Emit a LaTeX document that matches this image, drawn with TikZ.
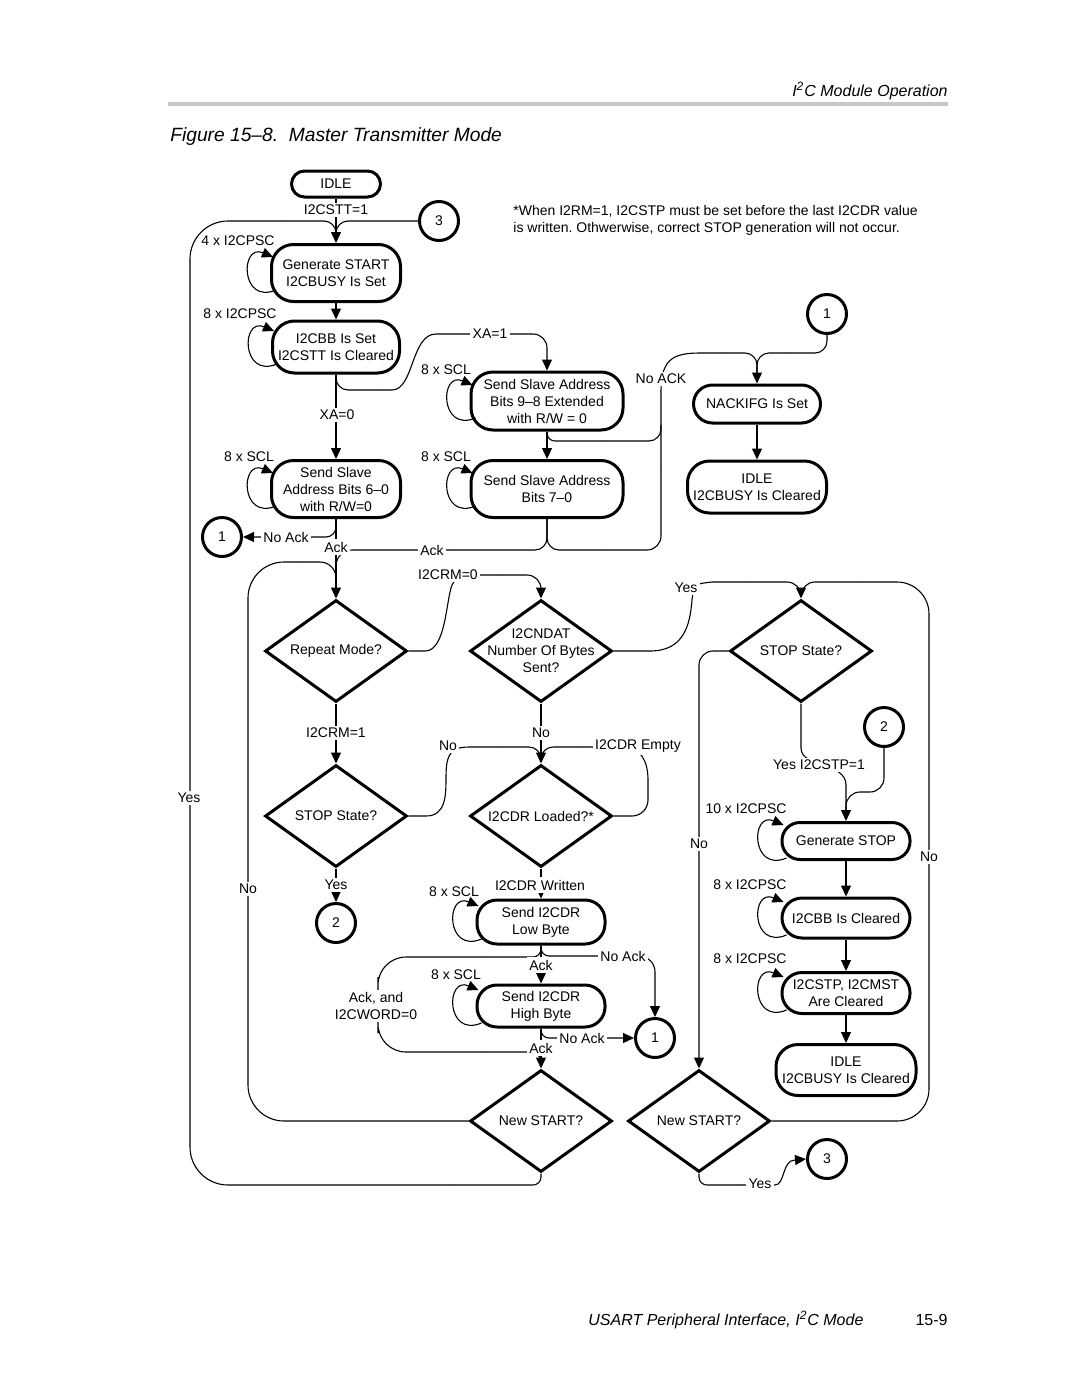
\documentclass[tikz,border=0pt]{standalone}
\usepackage{fontspec}
\setmainfont{Liberation Sans}
\usetikzlibrary{shapes.geometric,arrows.meta,calc}
\frenchspacing
\newcommand\slfloop[1]{\draw[arr] ($(#1.west)+(6,17)$) .. controls ($(#1.west)+(-30,32)$) and ($(#1.west)+(-30,-30)$) .. ($(#1.west)+(3,-16)$);}
\begin{document}
\begin{tikzpicture}[x=0.5pt,y=-0.5pt,font=\fontsize{7}{8.5}\selectfont,
  box/.style={draw,line width=1.5pt,rounded corners=11pt,align=center,inner sep=0pt},
  dia/.style={draw,diamond,line width=1.5pt,minimum width=71pt,minimum height=51pt,inner sep=0pt},
  circ/.style={draw,circle,line width=1.5pt,minimum size=19.5pt,inner sep=0pt},
  ln/.style={line width=0.55pt},
  arr/.style={ln,-{Triangle[length=5.5pt,width=5pt]}},
  lbl/.style={fill=white,inner sep=1.2pt,align=center},
  txt/.style={inner sep=0pt,align=center}]
\useasboundingbox (0,0) rectangle (1080,1397);

% header / footer
\node[anchor=base east,inner sep=0pt,font=\fontsize{8}{9}\selectfont\itshape] (hdr) at (948,96.5) {I\textsuperscript{2}C Module Operation};
\draw[line width=2pt,black!22] (168,104) -- (948,104);
\node[anchor=base west,inner sep=0pt,font=\fontsize{9.6}{11}\selectfont\itshape] (title) at (170,141) {Figure 15–8.\ \ Master Transmitter Mode};
\node[anchor=base west,inner sep=0pt,font=\fontsize{8}{9}\selectfont\itshape] (foot) at (588,1325) {USART Peripheral Interface, I\textsuperscript{2}C Mode};
\node[anchor=base east,inner sep=0pt,font=\fontsize{8}{9}\selectfont] (page) at (948,1325) {15-9};
\node[anchor=base west,inner sep=0pt] (fn1) at (513,215) {*When I2RM=1, I2CSTP must be set before the last I2CDR value};
\node[anchor=base west,inner sep=0pt] (fn2) at (513,232) {is written. Othwerwise, correct STOP generation will not occur.};

% boxes
\node[box,rounded corners=6.5pt,minimum width=44.5pt,minimum height=13pt] (idle1) at (336,184) {IDLE};
\node[box,minimum width=64.5pt,minimum height=28.5pt] (gs) at (336,273) {Generate START\\I2CBUSY Is Set};
\node[box,minimum width=63.5pt,minimum height=26pt] (bb) at (336,347) {I2CBB Is Set\\I2CSTT Is Cleared};
\node[box,minimum width=64.5pt,minimum height=28.5pt] (ss60) at (336,489) {Send Slave\\Address Bits 6–0\\with R/W=0};
\node[box,minimum width=76pt,minimum height=29pt] (ss98) at (547,401) {Send Slave Address\\Bits 9–8 Extended\\with R/W = 0};
\node[box,minimum width=76pt,minimum height=28.5pt] (ss70) at (547,489) {Send Slave Address\\Bits 7–0};
\node[box,rounded corners=9.5pt,minimum width=63.5pt,minimum height=19pt] (nack) at (757,404) {NACKIFG Is Set};
\node[box,minimum width=69.5pt,minimum height=26pt] (idleR) at (757,487) {IDLE\\I2CBUSY Is Cleared};
\node[box,rounded corners=9pt,minimum width=64pt,minimum height=18.5pt] (gstop) at (846,841) {Generate STOP};
\node[box,rounded corners=10pt,minimum width=64pt,minimum height=20pt] (bbc) at (846,918) {I2CBB Is Cleared};
\node[box,rounded corners=10pt,minimum width=64pt,minimum height=20.5pt] (stp) at (846,993) {I2CSTP, I2CMST\\Are Cleared};
\node[box,minimum width=70pt,minimum height=25.5pt] (idle2) at (846,1070) {IDLE\\I2CBUSY Is Cleared};
\node[box,rounded corners=10pt,minimum width=64pt,minimum height=22pt] (low) at (541,922) {Send I2CDR\\Low Byte};
\node[box,rounded corners=10pt,minimum width=64pt,minimum height=21pt] (high) at (541,1006) {Send I2CDR\\High Byte};

% diamonds
\node[dia] (rep) at (336,651) {};
\node[txt] (rep-t) at (rep) {Repeat Mode?};
\node[dia] (ndat) at (541,651) {};
\node[txt] (ndat-t) at (ndat) {I2CNDAT\\Number Of Bytes\\Sent?};
\node[dia] (stopR) at (801,651) {};
\node[txt] (stopR-t) at (stopR) {STOP State?};
\node[dia] (stopL) at (336,816) {};
\node[txt] (stopL-t) at (stopL) {STOP State?};
\node[dia] (ldr) at (541,816) {};
\node[txt] (ldr-t) at (ldr) {I2CDR Loaded?*};
\node[dia] (ns1) at (541,1121) {};
\node[txt] (ns1-t) at (ns1) {New START?};
\node[dia] (ns2) at (699,1121) {};
\node[txt] (ns2-t) at (ns2) {New START?};

% connectors (circles)
\node[circ] (c3a) at (439,221) {3};
\node[circ] (c1a) at (827,314) {1};
\node[circ] (c1b) at (222,537) {1};
\node[circ] (c2a) at (884,727) {2};
\node[circ] (c2b) at (336,923) {2};
\node[circ] (c1c) at (655,1038) {1};
\node[circ] (c3b) at (827,1159) {3};

% self loops
\slfloop{gs}\slfloop{bb}\slfloop{ss60}\slfloop{ss98}\slfloop{ss70}
\slfloop{gstop}\slfloop{bbc}\slfloop{stp}\slfloop{low}\slfloop{high}

% top part
\coordinate (mg1) at (336,234);
\draw[arr] (idle1) -- (gs);
\draw[ln,rounded corners=6pt] (c3a.west) -| (mg1);
\draw[ln,rounded corners=4pt] (ns1.south) |- (450,1185);
\draw[ln,rounded corners=19pt] (450,1185) -| (190,700) |- (280,221);
\draw[ln,rounded corners=6pt] (280,221) -| (mg1);
\draw[arr] (gs) -- (bb);
\draw[arr] (bb) -- (ss60);
\draw[ln,rounded corners=6pt] (bb.south) |- (380,390);
\draw[ln] (380,390) -- (392,390) .. controls (414,390) and (411,334) .. (436,334) -- (500,334);
\draw[arr,rounded corners=7pt] (500,334) -| (ss98.north);
\draw[arr,rounded corners=5pt] (ss60.south) |- (c1b.east);
\draw[arr] (ss60) -- (rep);
\draw[arr] (ss98) -- (ss70);
\draw[ln,rounded corners=6pt] (ss70.south) |- (450,550);
\draw[ln,rounded corners=8pt] (450,550) -| (336,575);
\draw[ln,rounded corners=18pt] (ns1.west) -| (248,800);
\draw[ln,rounded corners=18pt] (248,800) |- (300,562);
\draw[ln,rounded corners=8pt] (300,562) -| (336,590);
\draw[ln,rounded corners=4pt] (ss98.south) |- (600,441);
\draw[ln,rounded corners=6pt] (600,441) -| (661,425);
\draw[ln,rounded corners=6pt] (ss70.south) |- (600,550);
\draw[ln,rounded corners=7pt] (600,550) -| (661,470);
\draw[ln] (661,470) -- (661,392) .. controls (661,360) and (672,353) .. (700,353) -- (720,353);
\draw[arr,rounded corners=6pt] (720,353) -| (nack.north);
\draw[ln,rounded corners=6pt] (c1a.south) |- (790,353);
\draw[ln,rounded corners=6pt] (790,353) -| (757,375);
\draw[arr] (nack) -- (idleR);

% middle part
\draw[arr] (rep) -- (stopL);
\draw[ln] (rep.east) -- (425,651) .. controls (446,651) and (446,600) .. (452,585) .. controls (458,575) .. (470,575) -- (500,575);
\draw[arr,rounded corners=7pt] (500,575) -| (ndat.north);
\draw[arr] (ndat) -- (ldr);
\draw[ln] (ndat.east) -- (650,651) .. controls (684,651) and (690,625) .. (692,600) .. controls (694,584) .. (712,582) -- (750,582);
\draw[arr,rounded corners=7pt] (750,582) -| (stopR.north);
\draw[arr,rounded corners=7pt] (stopR.west) -| (ns2.north);
\draw[arr] (stopR.south) -- (801,748) .. controls (801,768) and (846,762) .. (846,785) -- (gstop.north);
\draw[ln,rounded corners=7pt] (c2a.south) |- (866,792);
\draw[ln,rounded corners=7pt] (866,792) -| (846,812);
\draw[arr] (gstop) -- (bbc);
\draw[arr] (bbc) -- (stp);
\draw[arr] (stp) -- (idle2);
\draw[ln,rounded corners=16pt] (ns2.east) -| (929,850);
\draw[ln,rounded corners=16pt] (929,850) |- (860,582);
\draw[ln,rounded corners=7pt] (860,582) -| (801,594);
\draw[ln,rounded corners=4pt] (ns2.south) |- (740,1185);
\draw[arr] (740,1185) -- (775,1185) .. controls (785,1185) and (782,1160) .. (795,1160) -- (c3b.west);
\draw[arr] (stopL) -- (c2b);
\draw[ln] (stopL.east) -- (426,816) .. controls (446,816) and (446,795) .. (446,777) .. controls (446,752) and (452,747) .. (470,747) -- (500,747);
\draw[ln,rounded corners=6pt] (500,747) -| (541,760);
\draw[ln,rounded corners=8pt] (ldr.east) -| (648,780);
\draw[ln] (648,780) .. controls (648,760) and (640,748) .. (625,747) -- (580,747);
\draw[ln,rounded corners=6pt] (580,747) -| (541,760);
\draw[arr] (ldr) -- (low);
\draw[arr] (low) -- (high);
\draw[ln,rounded corners=4pt] (low.south) |- (600,956);
\draw[arr,rounded corners=8pt] (600,956) -| (c1c.north);
\draw[ln,rounded corners=4pt] (low.south) |- (480,957);
\draw[ln,rounded corners=14pt] (480,957) -| (378,1005) |- (480,1052);
\draw[ln,rounded corners=5pt] (480,1052) -| (541,1062);
\draw[arr] (high) -- (ns1);
\draw[arr,rounded corners=4pt] (high.south) |- (c1c.west);

% labels on lines
\node[lbl] (l1) at (336,210) {I2CSTT=1};
\node[lbl] (l2) at (189,798) {Yes};
\node[lbl] (l3) at (337,415) {XA=0};
\node[lbl] (l4) at (490,334) {XA=1};
\node[lbl] (l5) at (286,537) {No Ack};
\node[lbl] (l6) at (336,547) {Ack};
\node[lbl] (l7) at (432,550) {Ack};
\node[lbl] (l8) at (661,379) {No ACK};
\node[lbl] (l9) at (248,889) {No};
\node[lbl] (l10) at (448,575) {I2CRM=0};
\node[lbl] (l11) at (686,588) {Yes};
\node[lbl] (l12) at (336,733) {I2CRM=1};
\node[lbl] (l13) at (541,733) {No};
\node[lbl] (l14) at (448,746) {No};
\node[lbl] (l15) at (638,746) {I2CDR Empty};
\node[lbl] (l16) at (819,765) {Yes I2CSTP=1};
\node[lbl] (l17) at (699,844) {No};
\node[lbl] (l18) at (929,857) {No};
\node[lbl] (l19) at (336,885) {Yes};
\node[lbl] (l20) at (540,885) {I2CDR Written};
\node[lbl] (l21) at (623,956) {No Ack};
\node[lbl] (l22) at (541,965) {Ack};
\node[lbl] (l23) at (376,1006) {Ack, and\\I2CWORD=0};
\node[lbl] (l24) at (582,1038) {No Ack};
\node[lbl] (l25) at (541,1048) {Ack};
\node[lbl] (l26) at (760,1184) {Yes};

% plain texts
\node[txt] (t1) at (238,241) {4 x I2CPSC};
\node[txt] (t2) at (240,314) {8 x I2CPSC};
\node[txt] (t3) at (249,457) {8 x SCL};
\node[txt] (t4) at (446,370) {8 x SCL};
\node[txt] (t5) at (446,457) {8 x SCL};
\node[txt] (t6) at (746,809) {10 x I2CPSC};
\node[txt] (t7) at (750,885) {8 x I2CPSC};
\node[txt] (t8) at (750,959) {8 x I2CPSC};
\node[txt] (t9) at (454,892) {8 x SCL};
\node[txt] (t10) at (456,975) {8 x SCL};
\end{tikzpicture}
\end{document}
